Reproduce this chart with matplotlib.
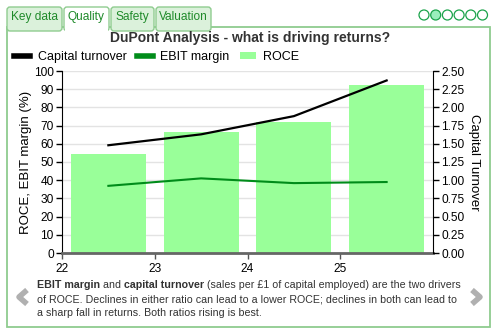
import matplotlib.pyplot as plt
from matplotlib.patches import FancyBboxPatch, Rectangle, Circle
from matplotlib.lines import Line2D

plt.rcParams['font.family'] = ['Liberation Sans', 'DejaVu Sans']

years = [22.5, 23.5, 24.5, 25.5]
roce = [54.3, 66.4, 71.9, 92.2]
ebit_margin = [36.9, 41.0, 38.4, 39.0]
capital_turnover = [1.48, 1.63, 1.88, 2.37]
x_ticks = [22, 23, 24, 25]
tabs = ['Key data', 'Quality', 'Safety', 'Valuation']

BAR_COLOR = '#99ff99'
EBIT_COLOR = '#008c1a'
TAB_GREEN = '#1f8a2a'
BORDER = '#8fcc8f'
TEXT = '#333333'
CAPTION_SIZE = 7.65

fig = plt.figure(figsize=(4.99, 3.30), dpi=100)

# decorations drawn in pixel coordinates
deco = fig.add_axes([0, 0, 1, 1], zorder=0)
deco.set_xlim(0, 499)
deco.set_ylim(330, 0)
deco.axis('off')

deco.add_patch(Rectangle((7, 27), 483, 300, fill=False, ec=BORDER, lw=1.3))
tab_edges = [6, 63, 110, 155, 212]
for i, name in enumerate(tabs):
    x0, x1 = tab_edges[i], tab_edges[i + 1]
    active = name == 'Quality'
    deco.add_patch(FancyBboxPatch((x0 + 1, 7), x1 - x0 - 2, 24,
                                  boxstyle='round,pad=0,rounding_size=3',
                                  fc='white' if active else '#dbf1db',
                                  ec=BORDER, lw=1.0, zorder=2))
    if active:
        deco.add_patch(Rectangle((x0 + 1.6, 26), x1 - x0 - 3.2, 6, fc='white', ec='none', zorder=3))
    deco.text((x0 + x1) / 2, 17, name, ha='center', va='center', fontsize=8.6,
              color=TAB_GREEN, zorder=4)

for i in range(6):
    deco.add_patch(Circle((424 + i * 11.7, 15), 5, fc='#99eebb' if i == 1 else 'white',
                          ec='#1aa34a', lw=0.9))

deco.plot([27, 19, 27], [290, 297, 304], color='#b0b0b0', lw=4, solid_capstyle='butt')
deco.plot([472, 480, 472], [290, 297, 304], color='#b0b0b0', lw=4, solid_capstyle='butt')

# main chart
ax = fig.add_axes([62 / 499, 1 - 253 / 330, 371 / 499, 182 / 330], zorder=1)
ax.patch.set_alpha(0)
ax.bar(years, roce, width=0.81, color=BAR_COLOR, zorder=2, label='ROCE')
ax.plot(years, ebit_margin, color=EBIT_COLOR, lw=1.5, zorder=3)
ax.set_xlim(22, 26)
ax.set_ylim(0, 100)
ax.set_yticks(range(0, 101, 10))
ax.set_xticks(x_ticks)
ax.grid(axis='y', color='#e3e3e3', lw=1, zorder=0)
ax.set_axisbelow(True)
ax.tick_params(axis='y', length=4, width=1, labelsize=8.6, pad=2)
ax.tick_params(axis='x', length=4, width=1, color='#555555', labelsize=8.6, pad=3)
ax.spines['top'].set_visible(False)
ax.spines['bottom'].set_color('#666666')
ax.spines['bottom'].set_linewidth(2)
ax.spines['right'].set_visible(False)
ax.set_ylabel('ROCE, EBIT margin (%)', fontsize=9.5, labelpad=1)

ax2 = ax.twinx()
ax2.plot(years, capital_turnover, color='black', lw=1.6, zorder=4)
ax2.set_ylim(0, 2.5)
ax2.set_yticks([i * 0.25 for i in range(11)])
ax2.set_yticklabels(['%.2f' % (i * 0.25) for i in range(11)])
ax2.tick_params(axis='y', length=4, width=1, labelsize=8.6, pad=2)
for s in ['top', 'left', 'bottom']:
    ax2.spines[s].set_visible(False)
ax2.set_ylabel('Capital Turnover', fontsize=9.5, rotation=270, labelpad=11)

fig.text(250 / 499, 1 - 38 / 330, 'DuPont Analysis - what is driving returns?',
         ha='center', va='center', fontsize=10, fontweight='bold', color=TEXT)

handles = [Line2D([], [], color='black', lw=4),
           Line2D([], [], color=EBIT_COLOR, lw=4),
           Rectangle((0, 0), 1, 1, fc=BAR_COLOR)]
fig.legend(handles, ['Capital turnover', 'EBIT margin', 'ROCE'], loc='center left',
           bbox_to_anchor=(14 / 499, 1 - 57 / 330), ncol=3, frameon=False, fontsize=9,
           handlelength=1.3, handleheight=0.5, handletextpad=0.6, columnspacing=0.8,
           borderaxespad=0, borderpad=0)

# caption, first line has bold pieces chained one after another
pieces = [('EBIT margin', 'bold'), (' and ', 'normal'), ('capital turnover', 'bold'),
          (' (sales per £1 of capital employed) are the two drivers', 'normal')]
anchor = fig.text(37 / 499, 1 - 290 / 330, pieces[0][0], fontsize=CAPTION_SIZE,
                  fontweight=pieces[0][1], color=TEXT, va='bottom')
for txt, w in pieces[1:]:
    anchor = deco.annotate(txt, xy=(1, 0), xycoords=anchor, fontsize=CAPTION_SIZE,
                           fontweight=w, color=TEXT, va='bottom', ha='left')
fig.text(37 / 499, 1 - 304 / 330,
         'of ROCE. Declines in either ratio can lead to a lower ROCE; declines in both can lead to',
         fontsize=CAPTION_SIZE, color=TEXT, va='bottom')
fig.text(37 / 499, 1 - 318 / 330, 'a sharp fall in returns. Both ratios rising is best.',
         fontsize=CAPTION_SIZE, color=TEXT, va='bottom')

fig.savefig('out.png', dpi=100)
